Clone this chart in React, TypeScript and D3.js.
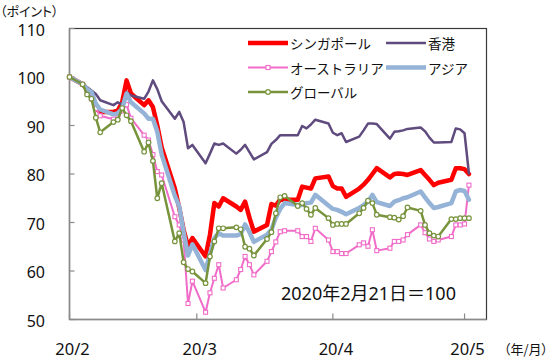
import React from "react";
import * as d3 from "d3";

const dates = [
  "2020-02-21","2020-02-24","2020-02-25","2020-02-26","2020-02-27","2020-02-28",
  "2020-03-02","2020-03-03","2020-03-04","2020-03-05","2020-03-06",
  "2020-03-09","2020-03-10","2020-03-11","2020-03-12","2020-03-13",
  "2020-03-16","2020-03-17","2020-03-18","2020-03-19","2020-03-20",
  "2020-03-23","2020-03-24","2020-03-25","2020-03-26","2020-03-27",
  "2020-03-30","2020-03-31","2020-04-01","2020-04-02","2020-04-03",
  "2020-04-06","2020-04-07","2020-04-08","2020-04-09","2020-04-10",
  "2020-04-13","2020-04-14","2020-04-15","2020-04-16","2020-04-17",
  "2020-04-20","2020-04-21","2020-04-22","2020-04-23","2020-04-24",
  "2020-04-27","2020-04-28","2020-04-29","2020-04-30","2020-05-01",
  "2020-05-04","2020-05-05","2020-05-06","2020-05-07","2020-05-08",
  "2020-05-11","2020-05-12","2020-05-13","2020-05-14","2020-05-15",
  "2020-05-18","2020-05-19","2020-05-20","2020-05-21","2020-05-22",
];

const singapore = [
  100, 98.5, 97.5, 96.9, 93.5, 92.8,
  92.8, 93.1, 94.8, 99.3, 96.6,
  94.2, 95.2, 93.8, 90, 85.5,
  77, 73, 68.5, 65.1, 66.8,
  63, 67.5, 74, 73.3, 75,
  73.3, 72.6, 74.3, 71, 68.1,
  69.5, 73.8, 73.5, 74.7, 74.7,
  74.7, 77.4, 77.2, 77, 79.1,
  79.5, 77.5, 77, 77, 75.3,
  77, 77.8, 78.8, 80, 81.2,
  79.3, 80, 80.1, 80, 79.8,
  80.8, 79.8, 78.8, 77.7, 78.2,
  78.8, 81.2, 81.2, 81, 80,
];

const hongkong = [
  100, 98.5, 97.9, 97.2, 96.5, 95.2,
  94.2, 94.8, 94.3, 96.9, 96.2,
  95.5, 97, 99.3, 97.5, 95,
  91.4, 92.8, 90.7, 85.3, 86,
  82.2, 84.2, 86.3, 86, 86.3,
  84.2, 85, 86, 84.5, 83,
  84.5, 86.2, 87, 88, 88,
  88, 89.9, 89.4, 90.2, 91.2,
  90.4, 88.5, 88, 88.4, 86.6,
  87.7, 89, 90.4, 90.4, 90.3,
  87.3, 88.7, 88.8, 89, 89.3,
  89.6, 88.8, 87.5, 86.5, 86.5,
  86.6, 89.4, 89.2, 88.4, 80.1,
];

const australia = [
  100, 98.5, 97, 95.5, 93.5, 92,
  91.3, 91.6, 93, 94.3, 91.5,
  88, 87, 84, 80.5, 79.8,
  71.2, 69.5, 66.4, 53.3, 57.9,
  51.5, 55.5, 58.5, 61.3, 56.5,
  58.2, 60.3, 63, 61.3, 59.2,
  62, 64, 66, 68.1, 68.3,
  68.3, 67.1, 67.1, 66.1, 68.8,
  66.4, 64, 64, 63.6, 63.6,
  65.4, 65.8, 65.1, 68.5, 64.2,
  64.7, 66.1, 66.1, 66.4, 67.5,
  69.5, 67.9, 66.6, 66.1, 66.4,
  67.1, 69.5, 69.5, 69.7, 77.7,
];

const asia = [
  100, 98.5, 97.5, 96.9, 94.5, 93.3,
  92.3, 92.5, 93.5, 96.6, 94.8,
  92.5, 91.4, 91.4, 88.7, 84,
  75.5, 73.3, 68, 63.2, 65.5,
  60.2, 63.5, 66.8, 67.8, 67.3,
  67.3, 67.6, 69.6, 68, 66,
  67.5, 68.5, 71, 72.8, 74,
  73.6, 73.6, 74, 74.1, 75.7,
  73.5, 72.8, 72.6, 72.2, 71.7,
  73, 73.6, 74.3, 75.7, 74.2,
  73.4, 74.3, 74.6, 75, 75.2,
  76.4, 75.2, 74, 73, 73.2,
  74, 76.4, 76.7, 76.5, 74.7,
];

const globalIdx = [
  100, 98.5, 96.4, 95.5, 91.6, 88.6,
  90.7, 91.2, 93.6, 92.1, 90.9,
  84.6, 86.5, 82.7, 75, 78.1,
  66.1, 67.8, 61.8, 60.4, 59.9,
  57.5, 63, 66.1, 68.8, 68.8,
  69, 68.6, 65, 64.6, 63.2,
  66.6, 68, 71.9, 75.2, 75.5,
  73.4, 74, 72.8, 71.6, 73,
  70.9, 69.5, 69.7, 69.7, 69.7,
  71.9, 73, 74.5, 74, 71.6,
  71.1, 71, 70.6, 71.3, 73.1,
  72.4, 69.5, 67.8, 67.3, 67.1,
  70.7, 70.7, 70.9, 70.9, 70.9,
];

const yTicks = [50, 60, 70, 80, 90, 100, 110];
const xTickDates = ["2020-02-21", "2020-03-21", "2020-04-21", "2020-05-21"];
const xTickLabels = ["20/2", "20/3", "20/4", "20/5"];
const domainDates = ["2020-02-21", "2020-05-26"];

type Series = {
  name: string;
  values: number[];
  color: string;
  width: number;
  marker?: "square" | "circle";
};

const series: Series[] = [
  { name: "シンガポール", values: singapore, color: "#FF0000", width: 4.5 },
  { name: "香港", values: hongkong, color: "#5F4B7E", width: 2.5 },
  { name: "オーストラリア", values: australia, color: "#F06CC8", width: 2, marker: "square" },
  { name: "アジア", values: asia, color: "#95B3D7", width: 4.5 },
  { name: "グローバル", values: globalIdx, color: "#77933C", width: 2.5, marker: "circle" },
];

const W = 550;
const H = 359;
const L = 69.5, R = 486.5, T = 28.5, B = 319.5;
const JP = "'Noto Sans CJK JP', sans-serif";
const NUM = "'Noto Sans', 'Noto Sans CJK JP', sans-serif";

export default function App() {
  const parse = d3.timeParse("%Y-%m-%d");
  const x = d3
    .scaleTime()
    .domain(domainDates.map((d) => parse(d) as Date))
    .range([L, R]);
  const y = d3.scaleLinear().domain([50, 110]).range([B, T]);
  const parsed = dates.map((d) => parse(d) as Date);

  const line = d3
    .line<number>()
    .x((_, i) => x(parsed[i]))
    .y((v) => y(v));

  const legendPos = [
    { lx: 248, ty: 43 },
    { lx: 386, ty: 43 },
    { lx: 248, ty: 67.5 },
    { lx: 386, ty: 67.5 },
    { lx: 248, ty: 92 },
  ];

  const marker = (s: Series, cx: number, cy: number, key: string | number) => {
    if (s.marker === "square") {
      return (
        <rect key={key} x={cx - 2} y={cy - 2} width={4} height={4}
          fill="#fff" stroke={s.color} strokeWidth={1.1} />
      );
    }
    if (s.marker === "circle") {
      return (
        <circle key={key} cx={cx} cy={cy} r={2.3} fill="#fff"
          stroke={s.color} strokeWidth={1.2} />
      );
    }
    return null;
  };

  return (
    <svg width={W} height={H} style={{ position: "absolute", left: 0, top: 0, background: "#fff" }}
      fontFamily={JP}>
      <rect x={0} y={0} width={W} height={H} fill="#fff" />
      <rect x={L} y={T} width={R - L} height={B - T} fill="none" stroke="#3a3a3a" strokeWidth={1.2} />
      <line x1={L} x2={L} y1={T} y2={B} stroke="#8a8a8a" strokeWidth={1.5} />
      <line x1={L} x2={R} y1={B} y2={B} stroke="#8a8a8a" strokeWidth={1.5} />
      {yTicks.map((t) => (
        <g key={t}>
          <line x1={L} x2={L + 5} y1={y(t)} y2={y(t)} stroke="#8a8a8a" strokeWidth={1.2} />
          <text x={45} y={y(t) + 1} textAnchor="end" dominantBaseline="central" fontSize={16}
            fontFamily={NUM} fill="#111">
            {t}
          </text>
        </g>
      ))}
      {xTickDates.map((d, i) => {
        const xx = x(parse(d) as Date);
        return (
          <g key={d}>
            <line x1={xx} x2={xx} y1={B} y2={B - 6} stroke="#8a8a8a" strokeWidth={1.2} />
            <text x={xx + 3} y={348} textAnchor="middle" dominantBaseline="central" fontSize={16.5}
              fontFamily={NUM} fill="#111">
              {xTickLabels[i]}
            </text>
          </g>
        );
      })}
      <text x={0} y={10} fontSize={13} dominantBaseline="central" fill="#111"
        style={{ fontFeatureSettings: '"palt"' }}>（ポイント）</text>
      <text x={548} y={348} fontSize={13} textAnchor="end" dominantBaseline="central" fill="#111"
        style={{ fontFeatureSettings: '"palt"' }}>（年/月）</text>

      {series.map((s) => (
        <g key={s.name}>
          <path d={line(s.values) || ""} fill="none" stroke={s.color} strokeWidth={s.width}
            strokeLinejoin="round" strokeLinecap="round" />
          {s.marker && s.values.map((v, i) => marker(s, x(parsed[i]), y(v), i))}
        </g>
      ))}

      {series.map((s, i) => {
        const p = legendPos[i];
        return (
          <g key={"lg" + s.name}>
            <line x1={p.lx} x2={p.lx + 40} y1={p.ty} y2={p.ty} stroke={s.color} strokeWidth={s.width} />
            {s.marker && marker(s, p.lx + 20, p.ty, "m")}
            <text x={p.lx + 42} y={p.ty} dominantBaseline="central" fontSize={13.5} fill="#111">
              {s.name}
            </text>
          </g>
        );
      })}

      <text x={281} y={293} dominantBaseline="central" fontSize={18} fontFamily={NUM} fill="#111">
        2020年2月21日＝100
      </text>
    </svg>
  );
}
